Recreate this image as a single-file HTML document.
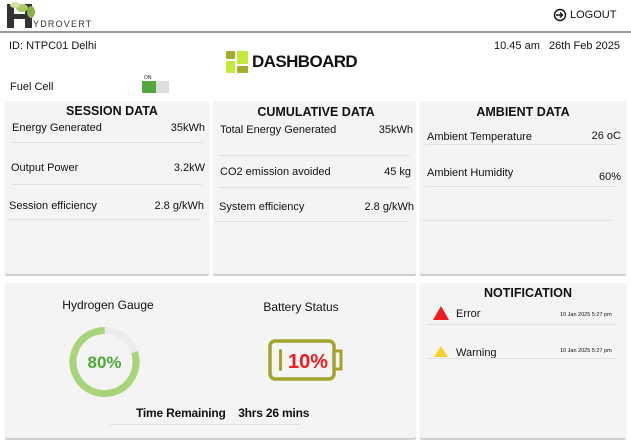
<!DOCTYPE html>
<html><head><style>
*{margin:0;padding:0;box-sizing:border-box}
body{width:631px;height:440px;background:#fff;font-family:"Liberation Sans",sans-serif;color:#111;position:relative;overflow:hidden}
.a{position:absolute;white-space:nowrap}
.card{position:absolute;background:#f4f4f4;border-radius:2px;box-shadow:0 2px 1px #ccc}
.t{font-size:11px;transform:translateY(-50%)}
.h{font-weight:bold;font-size:12.5px;transform:translate(-50%,-50%)}
.ln{position:absolute;height:1px;background:#e2e2e2}
</style></head><body>
<svg class="a" style="left:0;top:0" width="110" height="32">
<rect x="7" y="4" width="7" height="24" fill="#333"/><rect x="25" y="4" width="7" height="24" fill="#333"/><rect x="7" y="14" width="25" height="5" fill="#333"/>
<ellipse cx="22" cy="8" rx="6" ry="4" fill="#a8c86a"/><ellipse cx="31" cy="12" rx="4" ry="6" fill="#8ab04a"/><ellipse cx="15" cy="5" rx="5" ry="3" fill="#cfe0a0"/>
<text x="33" y="27" font-size="9" letter-spacing="1.2" fill="#333" font-family="Liberation Sans">YDROVERT</text>
</svg>
<svg class="a" style="left:553px;top:8px" width="14" height="14"><circle cx="7" cy="7" r="5.5" fill="none" stroke="#111" stroke-width="1.4"/><path d="M3 7h6M7 4.5l2.5 2.5L7 9.5" fill="none" stroke="#111" stroke-width="1.4"/></svg>
<div class="a" style="left:570px;top:9px;font-size:11px">LOGOUT</div>
<div class="a" style="left:0;top:31px;width:631px;height:2px;background:#999"></div>
<div class="a" style="left:9px;top:40px;font-size:11px">ID: NTPC01 Delhi</div>
<div class="a" style="left:494px;top:40px;font-size:11px">10.45 am&nbsp;&nbsp;&nbsp;26th Feb 2025</div>
<div class="a" style="left:226px;top:51px;width:9px;height:8px;background:#a4ad2e;border-radius:1px"></div>
<div class="a" style="left:226px;top:61px;width:9px;height:12px;background:#c5ea3c;border-radius:1px"></div>
<div class="a" style="left:237px;top:51px;width:11px;height:13px;background:#c5ea3c;border-radius:1px"></div>
<div class="a" style="left:237px;top:66px;width:11px;height:7px;background:#a4ad2e;border-radius:1px"></div>
<div class="a" style="left:252px;top:52px;font-size:17px;font-weight:bold;letter-spacing:-0.6px">DASHBOARD</div>
<div class="a" style="left:10px;top:81px;font-size:11px">Fuel Cell</div>
<div class="a" style="left:144px;top:75px;font-size:5px">ON</div>
<div class="a" style="left:142px;top:81px;width:14px;height:12px;background:#52a83c"></div>
<div class="a" style="left:156px;top:81px;width:13px;height:12px;background:#ddd"></div>

<div class="card" style="left:5px;top:101px;width:204px;height:173px"></div>
<div class="card" style="left:213px;top:101px;width:203px;height:173px"></div>
<div class="card" style="left:420px;top:101px;width:206px;height:173px"></div>
<div class="a h" style="left:112px;top:111px">SESSION DATA</div>
<div class="a h" style="left:316px;top:112px">CUMULATIVE DATA</div>
<div class="a h" style="left:523px;top:112px">AMBIENT DATA</div>
<div class="a t" style="left:12px;top:128px">Energy Generated</div><div class="a t" style="right:426px;top:128px">35kWh</div><div class="ln" style="left:12px;top:142px;width:191px"></div>
<div class="a t" style="left:11px;top:168px">Output Power</div><div class="a t" style="right:426px;top:168px">3.2kW</div><div class="ln" style="left:11px;top:184px;width:191px"></div>
<div class="a t" style="left:9px;top:206px">Session efficiency</div><div class="a t" style="right:427px;top:206px">2.8 g/kWh</div><div class="ln" style="left:8px;top:219px;width:191px"></div>
<div class="a t" style="left:220px;top:130px">Total Energy Generated</div><div class="a t" style="right:218px;top:130px">35kWh</div><div class="ln" style="left:219px;top:155px;width:191px"></div>
<div class="a t" style="left:220px;top:172px">CO2 emission avoided</div><div class="a t" style="right:220px;top:172px">45 kg</div><div class="ln" style="left:219px;top:187px;width:191px"></div>
<div class="a t" style="left:219px;top:207px">System efficiency</div><div class="a t" style="right:217px;top:207px">2.8 g/kWh</div><div class="ln" style="left:215px;top:221px;width:193px"></div>
<div class="a t" style="left:427px;top:137px">Ambient Temperature</div><div class="a t" style="right:10px;top:136px">26 oC</div><div class="ln" style="left:425px;top:144px;width:191px"></div>
<div class="a t" style="left:427px;top:173px">Ambient Humidity</div><div class="a t" style="right:10px;top:177px">60%</div><div class="ln" style="left:425px;top:186px;width:191px"></div>
<div class="ln" style="left:421px;top:220px;width:191px"></div>

<div class="card" style="left:5px;top:283px;width:411px;height:155px"></div>
<div class="card" style="left:420px;top:283px;width:206px;height:155px"></div>
<div class="a" style="left:108px;top:305px;font-size:12px;transform:translate(-50%,-50%)">Hydrogen Gauge</div>
<div class="a" style="left:301px;top:307px;font-size:12px;transform:translate(-50%,-50%)">Battery Status</div>
<svg class="a" style="left:60px;top:320px" width="300" height="90">
<circle cx="44.5" cy="42" r="31.5" fill="none" stroke="#ececec" stroke-width="7"/>
<circle cx="44.5" cy="42" r="31.5" fill="none" stroke="#a8d47a" stroke-width="7" stroke-dasharray="158.3 197.9" transform="rotate(-18 44.5 42)"/>
<text x="44.5" y="48" text-anchor="middle" font-size="17" font-weight="bold" fill="#4ca832" font-family="Liberation Sans">80%</text>
<rect x="210" y="21" width="64" height="38" rx="5" fill="none" stroke="#a3a52a" stroke-width="3.5"/>
<path d="M275 31h6v18h-6" fill="none" stroke="#a3a52a" stroke-width="3"/>
<rect x="219" y="29" width="3" height="22" rx="1.5" fill="#a3a52a"/>
<text x="248" y="48" text-anchor="middle" font-size="20" font-weight="bold" fill="#ee1c1c" font-family="Liberation Sans">10%</text>
</svg>
<div class="a" style="left:136px;top:406px;font-size:12px;font-weight:bold;letter-spacing:-0.2px">Time Remaining&nbsp;&nbsp;&nbsp;&nbsp;3hrs 26 mins</div>
<div class="ln" style="left:110px;top:424px;width:190px"></div>
<div class="a h" style="left:528px;top:293px">NOTIFICATION</div>
<svg class="a" style="left:432px;top:305px" width="18" height="60"><path d="M9 1L17 15H1Z" fill="#ee1c1c"/><path d="M9 41L16 52H2Z" fill="#f5cf2a"/></svg>
<div class="a t" style="left:456px;top:314px">Error</div>
<div class="a t" style="left:560px;top:315px;font-size:5.5px">10 Jan 2025 5:27 pm</div>
<div class="ln" style="left:426px;top:324px;width:191px"></div>
<div class="a t" style="left:456px;top:353px">Warning</div>
<div class="a t" style="left:560px;top:351px;font-size:5.5px">10 Jan 2025 5:27 pm</div>
<div class="ln" style="left:426px;top:358px;width:191px"></div>
</body></html>
